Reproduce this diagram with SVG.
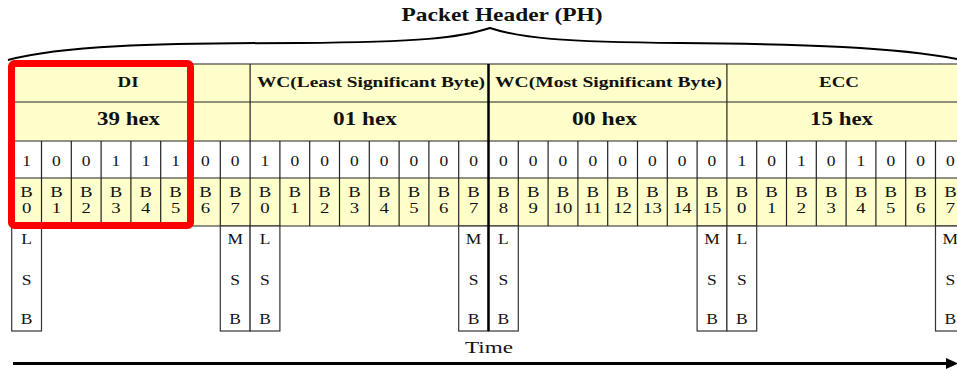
<svg xmlns="http://www.w3.org/2000/svg" width="957" height="369" viewBox="0 0 957 369">
<style>
.t{font-family:"Liberation Serif","Times New Roman",serif;fill:#111}
.b{font-weight:bold}
.hd{font-size:15px}
.hx{font-size:19px}
.bt{font-size:14px}
.bl{font-size:15px}
.ms{font-size:14px}
.tm{font-size:16.5px}
.g{stroke:#222;stroke-width:1.2;fill:none}
.box{stroke:#333;stroke-width:1.2;fill:#fff}
.y{fill:#FFFFCC}
</style>
<defs>
<marker id="ah" viewBox="0 0 10 10" refX="9" refY="5" markerWidth="4" markerHeight="4" orient="auto" markerUnits="strokeWidth">
<path d="M0,0 L10,5 L0,10 Z" fill="#000"/>
</marker>
</defs>
<rect width="957" height="369" fill="#fff"/>

<g id="title">
<text class="t b" x="502" y="21" font-size="19" text-anchor="middle" textLength="201" lengthAdjust="spacingAndGlyphs">Packet Header (PH)</text>
<path d="M8,60 C60,46 150,43 300,43 C420,42 460,38 490,28 C520,38 560,42 680,43 C800,44 900,47 962,60" fill="none" stroke="#000" stroke-width="2"/>
</g>

<g id="table">
<rect class="y" x="11.7" y="64" width="946" height="77"/>
<rect fill="#fff" x="11.7" y="141" width="946" height="37"/>
<rect class="y" x="11.7" y="178" width="946" height="48"/>
<path class="g" d="M11.7,64H957 M11.7,102H957 M11.7,141H957 M11.7,178H957 M11.7,226H957 M250.1,64V226 M726.9,64V226"/>
<path class="g" d="M41.5,141V226 M71.3,141V226 M101.1,141V226 M130.9,141V226 M160.7,141V226 M190.5,141V226 M220.3,141V226 M279.9,141V226 M309.7,141V226 M339.5,141V226 M369.3,141V226 M399.1,141V226 M428.9,141V226 M458.7,141V226 M518.3,141V226 M548.1,141V226 M577.9,141V226 M607.7,141V226 M637.5,141V226 M667.3,141V226 M697.1,141V226 M756.7,141V226 M786.5,141V226 M816.3,141V226 M846.1,141V226 M875.9,141V226 M905.7,141V226 M935.5,141V226"/>
</g>

<g id="field-di">
<text class="t b hd" x="128" y="87" text-anchor="middle" textLength="21" lengthAdjust="spacingAndGlyphs">DI</text>
<text class="t b hx" x="128.5" y="125" text-anchor="middle" textLength="63" lengthAdjust="spacingAndGlyphs">39 hex</text>
</g>
<g id="field-wc-ls">
<text class="t b hd" x="371" y="87" text-anchor="middle" textLength="228" lengthAdjust="spacingAndGlyphs">WC(Least Significant Byte)</text>
<text class="t b hx" x="365" y="125" text-anchor="middle" textLength="64" lengthAdjust="spacingAndGlyphs">01 hex</text>
</g>
<g id="field-wc-ms">
<text class="t b hd" x="608.5" y="87" text-anchor="middle" textLength="227" lengthAdjust="spacingAndGlyphs">WC(Most Significant Byte)</text>
<text class="t b hx" x="604.5" y="125" text-anchor="middle" textLength="65" lengthAdjust="spacingAndGlyphs">00 hex</text>
</g>
<g id="field-ecc">
<text class="t b hd" x="839" y="87" text-anchor="middle" textLength="40" lengthAdjust="spacingAndGlyphs">ECC</text>
<text class="t b hx" x="841.5" y="125" text-anchor="middle" textLength="63" lengthAdjust="spacingAndGlyphs">15 hex</text>
</g>

<g id="bits" transform="scale(1.25 1)" text-anchor="middle" class="t bt">
<text x="21.28" y="166">1</text><text x="45.12" y="166">0</text><text x="68.96" y="166">0</text><text x="92.80" y="166">1</text><text x="116.64" y="166">1</text><text x="140.48" y="166">1</text><text x="164.32" y="166">0</text><text x="188.16" y="166">0</text>
<text x="212.00" y="166">1</text><text x="235.84" y="166">0</text><text x="259.68" y="166">0</text><text x="283.52" y="166">0</text><text x="307.36" y="166">0</text><text x="331.20" y="166">0</text><text x="355.04" y="166">0</text><text x="378.88" y="166">0</text>
<text x="402.72" y="166">0</text><text x="426.56" y="166">0</text><text x="450.40" y="166">0</text><text x="474.24" y="166">0</text><text x="498.08" y="166">0</text><text x="521.92" y="166">0</text><text x="545.76" y="166">0</text><text x="569.60" y="166">0</text>
<text x="593.44" y="166">1</text><text x="617.28" y="166">0</text><text x="641.12" y="166">1</text><text x="664.96" y="166">0</text><text x="688.80" y="166">1</text><text x="712.64" y="166">0</text><text x="736.48" y="166">0</text><text x="760.32" y="166">0</text>
</g>

<g id="bit-names" transform="scale(1.25 1)" text-anchor="middle" class="t bl">
<text x="21.28" y="197">B</text><text x="45.12" y="197">B</text><text x="68.96" y="197">B</text><text x="92.80" y="197">B</text><text x="116.64" y="197">B</text><text x="140.48" y="197">B</text><text x="164.32" y="197">B</text><text x="188.16" y="197">B</text>
<text x="212.00" y="197">B</text><text x="235.84" y="197">B</text><text x="259.68" y="197">B</text><text x="283.52" y="197">B</text><text x="307.36" y="197">B</text><text x="331.20" y="197">B</text><text x="355.04" y="197">B</text><text x="378.88" y="197">B</text>
<text x="402.72" y="197">B</text><text x="426.56" y="197">B</text><text x="450.40" y="197">B</text><text x="474.24" y="197">B</text><text x="498.08" y="197">B</text><text x="521.92" y="197">B</text><text x="545.76" y="197">B</text><text x="569.60" y="197">B</text>
<text x="593.44" y="197">B</text><text x="617.28" y="197">B</text><text x="641.12" y="197">B</text><text x="664.96" y="197">B</text><text x="688.80" y="197">B</text><text x="712.64" y="197">B</text><text x="736.48" y="197">B</text><text x="760.32" y="197">B</text>
<text x="21.28" y="213">0</text><text x="45.12" y="213">1</text><text x="68.96" y="213">2</text><text x="92.80" y="213">3</text><text x="116.64" y="213">4</text><text x="140.48" y="213">5</text><text x="164.32" y="213">6</text><text x="188.16" y="213">7</text>
<text x="212.00" y="213">0</text><text x="235.84" y="213">1</text><text x="259.68" y="213">2</text><text x="283.52" y="213">3</text><text x="307.36" y="213">4</text><text x="331.20" y="213">5</text><text x="355.04" y="213">6</text><text x="378.88" y="213">7</text>
<text x="402.72" y="213">8</text><text x="426.56" y="213">9</text><text x="450.40" y="213">10</text><text x="474.24" y="213">11</text><text x="498.08" y="213">12</text><text x="521.92" y="213">13</text><text x="545.76" y="213">14</text><text x="569.60" y="213">15</text>
<text x="593.44" y="213">0</text><text x="617.28" y="213">1</text><text x="641.12" y="213">2</text><text x="664.96" y="213">3</text><text x="688.80" y="213">4</text><text x="712.64" y="213">5</text><text x="736.48" y="213">6</text><text x="760.32" y="213">7</text>
</g>

<g id="sb-boxes">
<rect class="box" x="11.7" y="226" width="29.8" height="105"/>
<rect class="box" x="220.3" y="226" width="29.8" height="105"/>
<rect class="box" x="250.1" y="226" width="29.8" height="105"/>
<rect class="box" x="458.7" y="226" width="29.8" height="105"/>
<rect class="box" x="488.5" y="226" width="29.8" height="105"/>
<rect class="box" x="697.1" y="226" width="29.8" height="105"/>
<rect class="box" x="726.9" y="226" width="29.8" height="105"/>
<rect class="box" x="935.5" y="226" width="29.8" height="105"/>
</g>
<g id="sb-labels" transform="scale(1.25 1)" text-anchor="middle" class="t ms">
<text x="21.28" y="244">L</text><text x="21.28" y="285">S</text><text x="21.28" y="324">B</text>
<text x="188.16" y="244">M</text><text x="188.16" y="285">S</text><text x="188.16" y="324">B</text>
<text x="212.00" y="244">L</text><text x="212.00" y="285">S</text><text x="212.00" y="324">B</text>
<text x="378.88" y="244">M</text><text x="378.88" y="285">S</text><text x="378.88" y="324">B</text>
<text x="402.72" y="244">L</text><text x="402.72" y="285">S</text><text x="402.72" y="324">B</text>
<text x="569.60" y="244">M</text><text x="569.60" y="285">S</text><text x="569.60" y="324">B</text>
<text x="593.44" y="244">L</text><text x="593.44" y="285">S</text><text x="593.44" y="324">B</text>
<text x="760.32" y="244">M</text><text x="760.32" y="285">S</text><text x="760.32" y="324">B</text>
</g>

<g id="divider">
<line x1="488.5" y1="64" x2="488.5" y2="331" stroke="#000" stroke-width="2.5"/>
</g>

<g id="highlight">
<rect x="11.5" y="63.5" width="179" height="162" rx="3" fill="none" stroke="#FF0000" stroke-width="7"/>
</g>

<g id="time-label">
<text class="t tm" x="489" y="352.7" text-anchor="middle" textLength="48" lengthAdjust="spacingAndGlyphs">Time</text>
</g>

<g id="connectors">
<line x1="13" y1="363.5" x2="948" y2="363.5" stroke="#000" stroke-width="3"/>
<polygon points="946,358 958,363.5 946,369" fill="#000"/>
</g>
</svg>
